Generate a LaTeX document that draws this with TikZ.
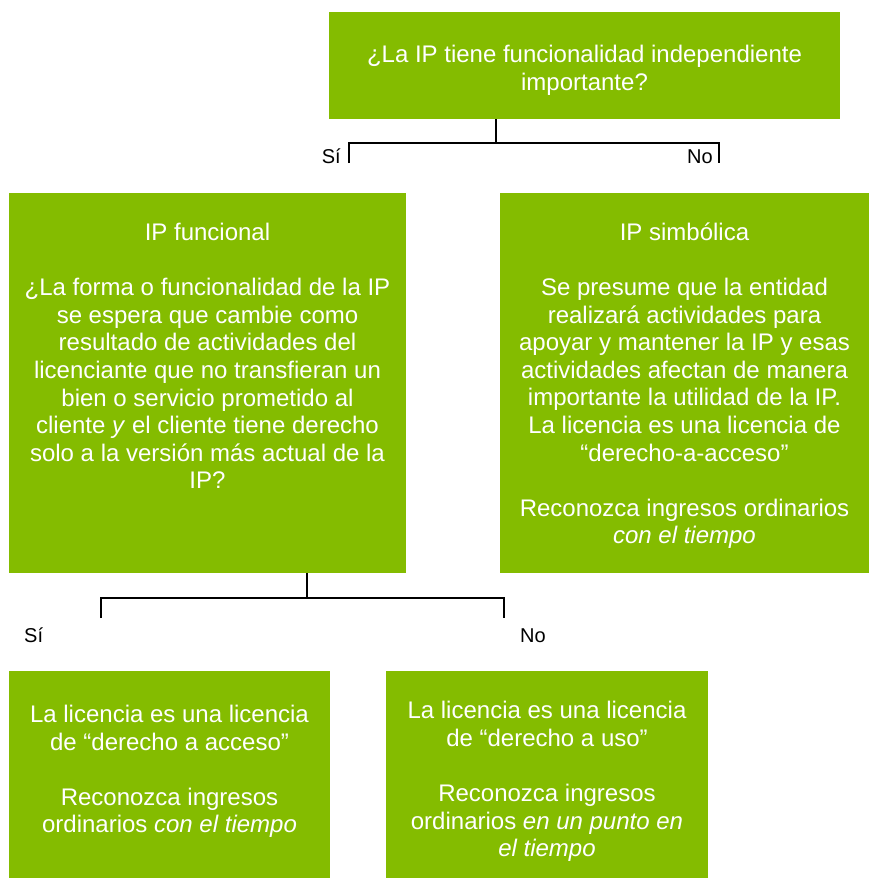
\documentclass[tikz,border=0pt]{standalone}
\usepackage{fontspec}
\setmainfont{Liberation Sans}
\usepackage{tikz}
\definecolor{ipgreen}{RGB}{132,188,0}

\begin{document}
\begin{tikzpicture}[x=1pt,y=-1pt,
  box/.style={fill=ipgreen,text=white,align=center,inner sep=0pt,
    font=\fontsize{24}{27.6}\selectfont},
  answer/.style={inner sep=0pt,font=\fontsize{20}{24}\selectfont},
  branch/.style={line width=1.3pt}]
\useasboundingbox (0,0) rectangle (869,879);
\node[box,minimum width=511pt,minimum height=107pt] (ip) at (584.5,65.5)
  {\rule{0pt}{27.5pt}¿La IP tiene funcionalidad independiente\\importante?};
\node[box,minimum width=397pt,minimum height=380pt] (func) at (207.5,383)
  {IP funcional\\[27.6pt]
   ¿La forma o funcionalidad de la IP\\
   se espera que cambie como\\
   resultado de actividades del\\
   licenciante que no transfieran un\\
   bien o servicio prometido al\\
   cliente \textit{y} el cliente tiene derecho\\
   solo a la versión más actual de la\\
   IP?\rule[-54pt]{0pt}{0pt}};
\node[box,minimum width=369pt,minimum height=380pt] (simb) at (684.5,383)
  {\rule{0pt}{23pt}IP simbólica\\[27.6pt]
   Se presume que la entidad\\
   realizará actividades para\\
   apoyar y mantener la IP y esas\\
   actividades afectan de manera\\
   importante la utilidad de la IP.\\
   La licencia es una licencia de\\
   “derecho-a-acceso”\\[27.6pt]
   Reconozca ingresos ordinarios\\
   \textit{con el tiempo}};
\node[box,minimum width=321pt,minimum height=207pt] (acceso) at (169.5,774.5)
  {La licencia es una licencia\\
   de “derecho a acceso”\\[27.6pt]
   Reconozca ingresos\\
   ordinarios \textit{con el tiempo}\rule[-11pt]{0pt}{0pt}};
\node[box,minimum width=322pt,minimum height=207pt] (uso) at (547,774.5)
  {\rule{0pt}{31.5pt}La licencia es una licencia\\
   de “derecho a uso”\\[27.6pt]
   Reconozca ingresos\\
   ordinarios \textit{en un punto en}\\
   \textit{el tiempo}};
\coordinate (fork1) at (496,143);
\coordinate (si1) at (349,163);
\coordinate (no1) at (719,163);
\draw[branch] (ip.south -| fork1) -- (fork1);
\draw[branch] (si1) |- (fork1) -| (no1);
\node[answer,anchor=base east] (si1txt) at (341,163) {Sí};
\node[answer,anchor=base east] (no1txt) at (713,163) {No};
\coordinate (fork2) at (307,598);
\coordinate (si2) at (101,618);
\coordinate (no2) at (504,618);
\draw[branch] (func.south -| fork2) -- (fork2);
\draw[branch] (si2) |- (fork2) -| (no2);
\node[answer,anchor=base west] (si2txt) at (24,642) {Sí};
\node[answer,anchor=base west] (no2txt) at (520,642) {No};
\end{tikzpicture}
\end{document}
